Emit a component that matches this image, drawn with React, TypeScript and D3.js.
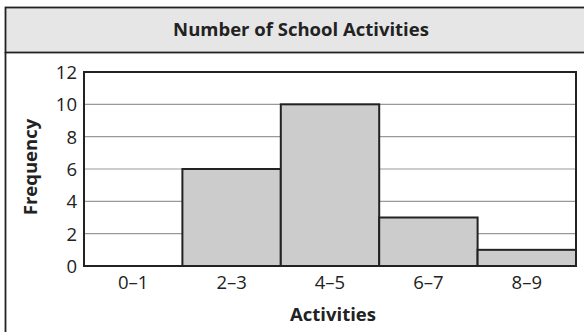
import { useRef, useEffect } from 'react';
import * as d3 from 'd3';

const categories = ['0–1', '2–3', '4–5', '6–7', '8–9'];
const frequencies = [0, 6, 10, 3, 1];
const yTicks = [0, 2, 4, 6, 8, 10, 12];

const W = 584;
const H = 332;
const font = '"Open Sans", "Noto Sans", sans-serif';

export default function App() {
  const ref = useRef<SVGSVGElement>(null);

  useEffect(() => {
    if (!ref.current) return;
    const svg = d3.select(ref.current);
    svg.selectAll('*').remove();

    const plot = { left: 84, right: 576, top: 72, bottom: 266 };

    const x = d3.scaleBand().domain(categories).range([plot.left, plot.right]).padding(0);
    const y = d3.scaleLinear().domain([0, 12]).range([plot.bottom, plot.top]);

    // outer frame + title band
    svg.append('rect')
      .attr('x', 5.5).attr('y', 7.5).attr('width', 600).attr('height', 45)
      .style('fill', '#e6e6e6').style('stroke', '#222').style('stroke-width', 1.8);
    svg.append('line')
      .attr('x1', 5.5).attr('x2', 5.5).attr('y1', 52).attr('y2', 340)
      .style('stroke', '#222').style('stroke-width', 1.8);

    svg.append('text')
      .attr('x', 301).attr('y', 36)
      .attr('text-anchor', 'middle')
      .style('font-family', font).style('font-weight', 'bold').style('font-size', '18.5px')
      .style('fill', '#222')
      .text('Number of School Activities');

    // gridlines
    svg.append('g')
      .selectAll('line')
      .data(yTicks.slice(1, -1))
      .join('line')
      .attr('x1', plot.left).attr('x2', plot.right)
      .attr('y1', d => y(d)).attr('y2', d => y(d))
      .style('stroke', '#999').style('stroke-width', 1.2);

    // bars
    svg.append('g')
      .selectAll('rect')
      .data(frequencies)
      .join('rect')
      .attr('x', (_, i) => x(categories[i])!)
      .attr('y', d => y(d))
      .attr('width', x.bandwidth())
      .attr('height', d => plot.bottom - y(d))
      .style('fill', d => (d > 0 ? '#cccccc' : 'none'))
      .style('stroke', d => (d > 0 ? '#222' : 'none'))
      .style('stroke-width', 2);

    // plot border
    svg.append('rect')
      .attr('x', plot.left).attr('y', plot.top)
      .attr('width', plot.right - plot.left).attr('height', plot.bottom - plot.top)
      .style('fill', 'none').style('stroke', '#222').style('stroke-width', 2);

    // y tick labels
    svg.append('g')
      .selectAll('text')
      .data(yTicks)
      .join('text')
      .attr('x', plot.left - 7)
      .attr('y', d => y(d) + 7)
      .attr('text-anchor', 'end')
      .style('font-family', font).style('font-size', '18.5px').style('fill', '#222')
      .text(d => d);

    // x tick labels
    svg.append('g')
      .selectAll('text')
      .data(categories)
      .join('text')
      .attr('x', d => x(d)! + x.bandwidth() / 2)
      .attr('y', plot.bottom + 23)
      .attr('text-anchor', 'middle')
      .style('font-family', font).style('font-size', '18.5px').style('fill', '#222')
      .text(d => d);

    svg.append('text')
      .attr('x', 333).attr('y', 321)
      .attr('text-anchor', 'middle')
      .style('font-family', font).style('font-weight', 'bold').style('font-size', '18.5px')
      .style('fill', '#222')
      .text('Activities');

    svg.append('text')
      .attr('transform', `translate(37, ${(plot.top + plot.bottom) / 2 - 2}) rotate(-90)`)
      .attr('text-anchor', 'middle')
      .style('font-family', font).style('font-weight', 'bold').style('font-size', '18.5px')
      .style('fill', '#222')
      .text('Frequency');
  }, []);

  return (
    <svg
      ref={ref}
      width={W}
      height={H}
      style={{ position: 'fixed', left: 0, top: 0, background: '#fff' }}
    />
  );
}
